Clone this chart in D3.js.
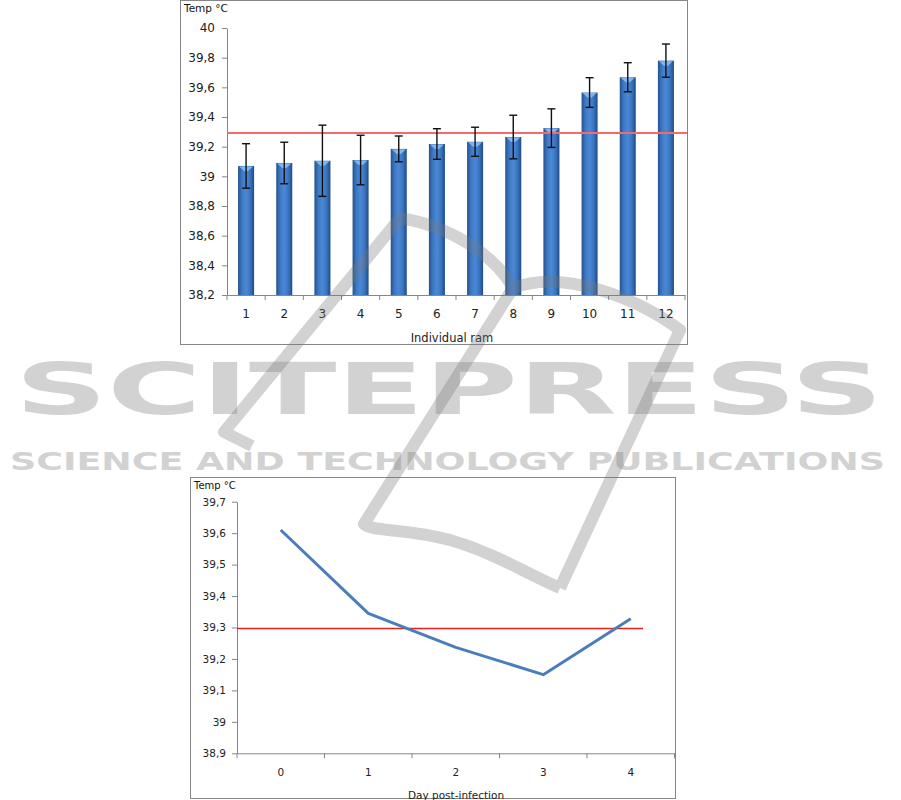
<!DOCTYPE html>
<html><head><meta charset="utf-8">
<script src="https://cdn.jsdelivr.net/npm/d3@7"></script>
<style>body{margin:0;background:#fff}svg{display:block}text{font-family:"DejaVu Sans",sans-serif}</style>
</head><body><svg id="c" width="901" height="800"></svg>
<script>
// ---- Chart 1 data (bar chart with error bars)
const rams = ["1","2","3","4","5","6","7","8","9","10","11","12"];
const ramMeans = [39.07, 39.09, 39.105, 39.11, 39.185, 39.218, 39.233, 39.265, 39.325, 39.565, 39.668, 39.78];
const ramErrors = [0.15, 0.14, 0.24, 0.167, 0.087, 0.103, 0.098, 0.147, 0.13, 0.10, 0.098, 0.112];
const ramRefLine = 39.292;
const yTicksTop = [38.2, 38.4, 38.6, 38.8, 39, 39.2, 39.4, 39.6, 39.8, 40];
// ---- Chart 2 data (line chart)
const days = ["0","1","2","3","4"];
const dayTemps = [39.61, 39.345, 39.237, 39.15, 39.328];
const dayRefLine = 39.3;
const dayRefSpan = [-0.5, 4.14]; // in day units
const yTicksBottom = [38.9, 39, 39.1, 39.2, 39.3, 39.4, 39.5, 39.6, 39.7];
// ---- Watermark texts
const wmBig = "SCITEPRESS";
const wmSmall = "SCIENCE AND TECHNOLOGY PUBLICATIONS";

const fmt = d => String(+d.toFixed(1)).replace(".", ",");
const svg = d3.select("#c");
const axisGray = "#868686";

// gradient for bars
const defs = svg.append("defs");
const g1 = defs.append("linearGradient").attr("id","barGrad").attr("x1","0").attr("x2","1").attr("y1","0").attr("y2","0");
[["0%","#24518e"],["25%","#3e79c4"],["50%","#4a88d6"],["75%","#3b75c0"],["100%","#1f4b85"]]
  .forEach(([o,c]) => g1.append("stop").attr("offset",o).attr("stop-color",c));

// ================= Chart 1 =================
const c1 = svg.append("g");
c1.append("rect").attr("x",180.5).attr("y",0.5).attr("width",507).attr("height",344)
  .attr("fill","#fff").attr("stroke",axisGray);

const x1 = d3.scaleBand().domain(rams).range([227, 685]).paddingInner(0.58).paddingOuter(0.29);
const y1 = d3.scaleLinear().domain([38.2, 40]).range([295, 28]);

// y axis
const ya1 = c1.append("g").attr("transform","translate(227,0)")
  .call(d3.axisLeft(y1).tickValues(yTicksTop).tickFormat(fmt).tickSizeInner(5).tickSizeOuter(0).tickPadding(7));
ya1.selectAll("line,path").attr("stroke",axisGray);
ya1.selectAll("text").attr("font-size",12).attr("fill","#222");

// x axis
const xa1 = c1.append("g").attr("transform","translate(0,295)")
  .call(d3.axisBottom(x1).tickSize(0).tickPadding(14));
xa1.select("path").attr("stroke",axisGray);
xa1.selectAll("text").attr("font-size",12).attr("fill","#222");
const step1 = x1.step();
c1.append("g").selectAll("line").data(d3.range(rams.length + 1)).join("line")
  .attr("x1", i => x1.range()[0] + i*step1).attr("x2", i => x1.range()[0] + i*step1)
  .attr("y1",295).attr("y2",300).attr("stroke",axisGray);

// bars
const bars = c1.append("g").selectAll("g").data(rams).join("g");
bars.append("rect")
  .attr("x", d => x1(d)).attr("width", x1.bandwidth())
  .attr("y", (d,i) => y1(ramMeans[i])).attr("height", (d,i) => y1(38.2) - y1(ramMeans[i]))
  .attr("fill","url(#barGrad)");
bars.append("path")
  .attr("d", (d,i) => {
    const x = x1(d), w = x1.bandwidth(), y = y1(ramMeans[i]);
    return `M${x+1},${y+0.5} L${x+w-1},${y+0.5} L${x+w/2+2},${y+5} L${x+w/2-2},${y+5} Z`;
  })
  .attr("fill","#8cc2f5").attr("opacity",0.85);

// reference line
c1.append("line").attr("x1",227).attr("x2",687).attr("y1",y1(ramRefLine)).attr("y2",y1(ramRefLine))
  .attr("stroke","#f36b6b").attr("stroke-width",1.8);

// error bars
const eb = c1.append("g").attr("stroke","#111").attr("stroke-width",1.4);
rams.forEach((d,i) => {
  const cx = x1(d) + x1.bandwidth()/2;
  const hi = y1(ramMeans[i] + ramErrors[i]), lo = y1(ramMeans[i] - ramErrors[i]);
  eb.append("line").attr("x1",cx).attr("x2",cx).attr("y1",hi).attr("y2",lo);
  eb.append("line").attr("x1",cx-4).attr("x2",cx+4).attr("y1",hi).attr("y2",hi);
  eb.append("line").attr("x1",cx-4).attr("x2",cx+4).attr("y1",lo).attr("y2",lo);
});

c1.append("text").attr("x",184).attr("y",12).attr("font-size",10.5).attr("fill","#111").text("Temp °C");
c1.append("text").attr("x",452).attr("y",341.5).attr("text-anchor","middle").attr("font-size",11.5).attr("fill","#222").text("Individual ram");

// ================= Chart 2 =================
const c2 = svg.append("g");
c2.append("rect").attr("x",190.5).attr("y",477.5).attr("width",485).attr("height",321)
  .attr("fill","#fff").attr("stroke",axisGray);

const x2b = d3.scaleBand().domain(days).range([237, 674.5]);
const x2 = d3.scalePoint().domain(days).range([237, 674.5]).padding(0.5);
const x2lin = d3.scaleLinear().domain([0, days.length-1]).range([x2(days[0]), x2(days[days.length-1])]);
const y2 = d3.scaleLinear().domain([38.9, 39.7]).range([753.3, 501.7]);

const ya2 = c2.append("g").attr("transform","translate(237,0)")
  .call(d3.axisLeft(y2).tickValues(yTicksBottom).tickFormat(fmt).tickSizeInner(5).tickSizeOuter(0).tickPadding(6));
ya2.selectAll("line,path").attr("stroke",axisGray);
ya2.selectAll("text").attr("font-size",10.5).attr("fill","#222");

const xa2 = c2.append("g").attr("transform","translate(0,753.3)")
  .call(d3.axisBottom(x2b).tickSize(0).tickPadding(15));
xa2.select("path").attr("stroke",axisGray);
xa2.selectAll("text").attr("font-size",10.5).attr("fill","#222");
c2.append("g").selectAll("line").data(d3.range(days.length + 1)).join("line")
  .attr("x1", i => 237 + i*x2b.step()).attr("x2", i => 237 + i*x2b.step())
  .attr("y1",753.3).attr("y2",758.3).attr("stroke",axisGray);

c2.append("line").attr("x1",x2lin(dayRefSpan[0])).attr("x2",x2lin(dayRefSpan[1]))
  .attr("y1",Math.round(y2(dayRefLine))+0.5).attr("y2",Math.round(y2(dayRefLine))+0.5)
  .attr("stroke","#e8201c").attr("stroke-width",1.3);

c2.append("path").datum(dayTemps)
  .attr("d", d3.line().x((d,i) => x2(days[i])).y(d => y2(d)))
  .attr("fill","none").attr("stroke","#4a7ebb").attr("stroke-width",3).attr("stroke-linejoin","round");

c2.append("text").attr("x",194).attr("y",489).attr("font-size",10).attr("fill","#111").text("Temp °C");
c2.append("text").attr("x",456).attr("y",799).attr("text-anchor","middle").attr("font-size",10.5).attr("fill","#222").text("Day post-infection");

// ================= Watermark =================
const wm = svg.append("g").attr("fill","rgb(120,120,120)").attr("opacity",0.33);
wm.append("text").attr("x",15).attr("y",414).attr("font-size",72).attr("font-weight","bold")
  .attr("textLength",868).attr("lengthAdjust","spacingAndGlyphs").text(wmBig);
wm.append("text").attr("x",10).attr("y",470).attr("font-size",24).attr("font-weight","bold")
  .attr("textLength",875).attr("lengthAdjust","spacingAndGlyphs").text(wmSmall);
const logo = svg.append("g").attr("fill","none").attr("stroke","rgb(120,120,120)").attr("opacity",0.33)
  .attr("stroke-width",12).attr("stroke-linejoin","round").attr("stroke-linecap","butt");
logo.append("path").attr("d","M252,446 L224,432 L400,218 C450,226 495,255 513,288");
logo.append("path").attr("d","M513,288 L364,524 C372,532 405,528 450,540 C495,553 525,573 560,588");
logo.append("path").attr("d","M560,588 L680,330 C640,300 565,268 513,288");
</script></body></html>
